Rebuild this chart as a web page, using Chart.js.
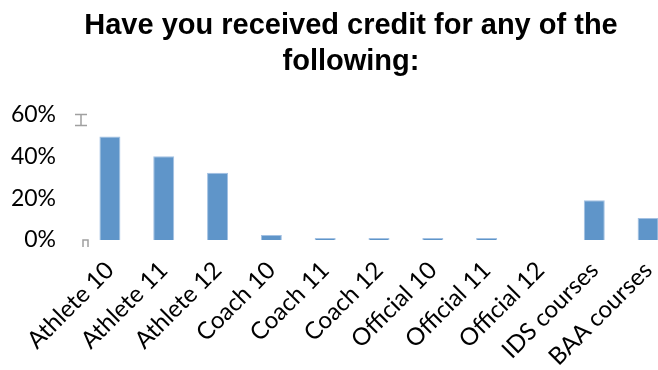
<!DOCTYPE html>
<html>
<head>
<meta charset="utf-8">
<script src="https://cdn.jsdelivr.net/npm/chart.js@4/dist/chart.umd.min.js"></script>
<style>
  html, body { margin: 0; padding: 0; background: #fff; overflow: hidden; }
  #c { display: block; }
</style>
</head>
<body>
<canvas id="c" width="702" height="370"></canvas>
<script>
// Survey categories and the share of respondents who received credit (%)
const categories = ['Athlete 10', 'Athlete 11', 'Athlete 12', 'Coach 10', 'Coach 11', 'Coach 12',
                    'Official 10', 'Official 11', 'Official 12', 'IDS courses', 'BAA courses'];
const creditShare = [49.5, 40, 32.2, 2.4, 1, 1, 1, 1, 0, 19, 10.5];
const yTicks = [0, 20, 40, 60];
const titleLines = ['Have you received credit for any of the', 'following:'];

// Small grey handle marks beside the value axis (top and bottom of the range)
const axisHandles = {
  id: 'axisHandles',
  afterDraw(chart) {
    const { ctx, chartArea, scales } = chart;
    const yTop = scales.y.getPixelForValue(yTicks[yTicks.length - 1]);
    const yBot = scales.y.getPixelForValue(yTicks[0]);
    const x = chartArea.left;
    ctx.save();
    ctx.strokeStyle = '#a0a0a0';
    ctx.lineWidth = 1.5;
    // "I"-beam at the top
    ctx.beginPath();
    ctx.moveTo(x - 8, yTop); ctx.lineTo(x + 4, yTop);
    ctx.moveTo(x - 2, yTop); ctx.lineTo(x - 2, yTop + 11);
    ctx.moveTo(x - 8, yTop + 11); ctx.lineTo(x + 4, yTop + 11);
    ctx.stroke();
    // small cap at the baseline
    ctx.beginPath();
    ctx.moveTo(x, yBot + 7); ctx.lineTo(x, yBot);
    ctx.lineTo(x + 5, yBot); ctx.lineTo(x + 5, yBot + 7);
    ctx.stroke();
    ctx.restore();
  }
};

new Chart(document.getElementById('c'), {
  type: 'bar',
  data: {
    labels: categories,
    datasets: [{
      data: creditShare,
      backgroundColor: '#5f95c9',
      borderColor: '#a3c1e3',
      borderWidth: 1,
      categoryPercentage: 1,
      barPercentage: 0.39
    }]
  },
  options: {
    responsive: false,
    animation: false,
    layout: { padding: { left: 0, right: 0, top: 0, bottom: 4 } },
    plugins: {
      legend: { display: false },
      tooltip: { enabled: false },
      title: {
        display: true,
        text: titleLines,
        color: '#000',
        font: { family: 'Liberation Sans, Arial, sans-serif', size: 29, weight: 'bold', lineHeight: 1.25 },
        padding: { top: 8, bottom: 34 }
      }
    },
    scales: {
      x: {
        grid: { display: false, drawTicks: false },
        border: { display: false },
        afterFit(scale) { scale.height = 126; },
        ticks: {
          color: '#000',
          font: { family: 'Lato, sans-serif', size: 24 },
          minRotation: 45,
          maxRotation: 45,
          autoSkip: false,
          padding: 16
        }
      },
      y: {
        min: 0,
        max: 60,
        grid: { display: false, drawTicks: false },
        border: { display: false },
        afterFit(scale) { scale.width = 83; },
        afterBuildTicks(scale) { scale.ticks = yTicks.map(v => ({ value: v })); },
        ticks: {
          color: '#000',
          font: { family: 'Lato, sans-serif', size: 23 },
          padding: 27,
          callback: v => v + '%'
        }
      },
      // empty right-hand margin axis
      yRight: {
        position: 'right',
        min: 0,
        max: 1,
        grid: { display: false, drawTicks: false },
        border: { display: false },
        ticks: { display: false },
        afterFit(scale) { scale.width = 27; }
      }
    }
  },
  plugins: [axisHandles]
});
</script>
</body>
</html>
